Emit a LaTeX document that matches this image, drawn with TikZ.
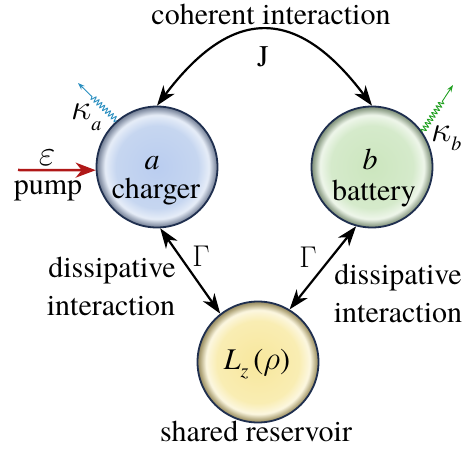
\RequirePackage{fix-cm}
\documentclass[tikz,border=0pt]{standalone}
\usepackage{fontspec}
\setmainfont{TeX Gyre Termes}
\usetikzlibrary{arrows.meta,decorations.pathmorphing}
\definecolor{navy}{HTML}{1F2F4F}
\definecolor{chA}{HTML}{BACDF0}
\definecolor{chB}{HTML}{C6D6F0}
\definecolor{chC}{HTML}{E6EDF8}
\definecolor{chD}{HTML}{8E99AD}
\definecolor{chE}{HTML}{6F7B90}
\definecolor{baA}{HTML}{CCE6BE}
\definecolor{baB}{HTML}{D5EACB}
\definecolor{baC}{HTML}{EEF6EA}
\definecolor{baD}{HTML}{98A892}
\definecolor{baE}{HTML}{7A8A75}
\definecolor{reA}{HTML}{F8E79C}
\definecolor{reB}{HTML}{F9EDB3}
\definecolor{reC}{HTML}{FCF7E0}
\definecolor{reD}{HTML}{B0A57A}
\definecolor{reE}{HTML}{908560}
\definecolor{pumpred}{HTML}{B01818}
\definecolor{kablue}{HTML}{2B8FC0}
\definecolor{kbgreen}{HTML}{22A022}
\pgfdeclareradialshading{chargershade}{\pgfpoint{0bp}{0bp}}{color(0bp)=(chA); color(17bp)=(chB); color(21.5bp)=(chC); color(24bp)=(chD); color(25bp)=(chE); color(50bp)=(chE)}
\pgfdeclareradialshading{batteryshade}{\pgfpoint{0bp}{0bp}}{color(0bp)=(baA); color(17bp)=(baB); color(21.5bp)=(baC); color(24bp)=(baD); color(25bp)=(baE); color(50bp)=(baE)}
\pgfdeclareradialshading{reservoirshade}{\pgfpoint{0bp}{0bp}}{color(0bp)=(reA); color(17bp)=(reB); color(21.5bp)=(reC); color(24bp)=(reD); color(25bp)=(reE); color(50bp)=(reE)}
\tikzset{
  ball/.style={circle, minimum size=121pt, inner sep=0pt, draw=navy, line width=1.8pt},
  txt/.style={inner sep=0pt},
  greek/.style={inner sep=0pt, font=\fontsize{36}{36}\selectfont},
  conn/.style={line width=2.2pt, black, >={Stealth[length=20pt,width=14pt,inset=6pt]}, <->},
  pumparrow/.style={line width=2.5pt, pumpred, -{Stealth[length=20pt,width=15pt,inset=6pt]}},
  snk/.style={line width=0.9pt, -{Stealth[length=7pt,width=5pt]}, decorate,
    decoration={snake, amplitude=2.6pt, segment length=4pt, post length=18pt}},
}
\begin{document}
\begin{tikzpicture}[x=1pt,y=1pt,font=\rmfamily\fontsize{30}{38}\selectfont]
\useasboundingbox (0,0) rectangle (464,450);
% balls
\node[ball, shading=chargershade] (charger) at (157,283) {};
\node[ball, shading=batteryshade] (battery) at (372,283) {};
\node[ball, shading=reservoirshade] (reservoir) at (258,88) {};
% ball texts
\node[txt, anchor=base] (alab) at (152,280) {\textit{a}};
\node[txt, anchor=base] (chlab) at (156,251) {charger};
\node[txt, anchor=base] (blab) at (370,280) {\textit{b}};
\node[txt, anchor=base] (btlab) at (374,249) {battery};
\node[txt, anchor=base] (lzlab) at (257,80) {\textit{L}\raisebox{-8pt}{\fontsize{20}{20}\selectfont\textit{z}}\hspace{5pt}({\fontsize{33}{33}\selectfont$\rho$})};
\node[txt, anchor=base] (shlab) at (256,8) {shared reservoir};
% coherent interaction
\node[txt, anchor=base] (cohlab) at (271,425) {coherent interaction};
\draw[conn] (charger.north) .. controls +(53:125) and +(127:125) .. (battery.north);
\node[txt] (jlab) at (263,393) {J};
% dissipative
\draw[conn] (charger.-87) -- (reservoir.128);
\draw[conn] (battery.-105) -- (reservoir.59);
\node[txt] (g1) at (201,194) {$\Gamma$};
\node[txt] (g2) at (308,193) {$\Gamma$};
\node[txt, anchor=base] (d1a) at (112,172) {dissipative};
\node[txt, anchor=base] (d1b) at (111,134) {interaction};
\node[txt, anchor=base] (d2a) at (398,165) {dissipative};
\node[txt, anchor=base] (d2b) at (398,127) {interaction};
% pump
\coordinate (pumpstart) at (18,280);
\draw[pumparrow] (pumpstart) -- (charger.183);
\node[greek] (eps) at (47,292) {$\varepsilon$};
\node[txt, anchor=base] (pumplab) at (48,255) {pump};
% losses
\coordinate (katip) at (78,367);
\draw[snk, kablue] (charger.131) -- (katip);
\node[txt, anchor=base west] (kalab) at (71,330) {{\fontsize{36}{36}\selectfont$\kappa$}\raisebox{-11pt}{\fontsize{20}{20}\selectfont\textit{a}}};
\coordinate (kbtip) at (453,365);
\draw[snk, kbgreen] (battery.35) -- (kbtip);
\node[txt, anchor=base west] (kblab) at (431,308) {{\fontsize{36}{36}\selectfont$\kappa$}\raisebox{-9pt}{\fontsize{20}{20}\selectfont\textit{b}}};
\end{tikzpicture}
\end{document}
